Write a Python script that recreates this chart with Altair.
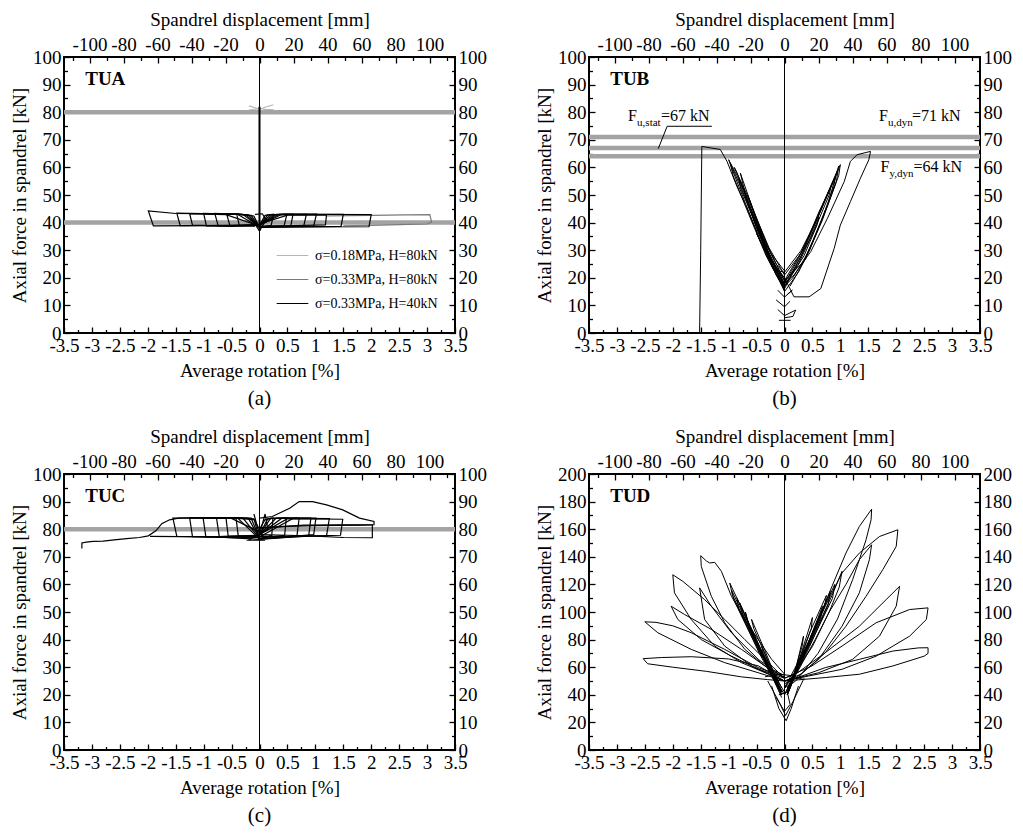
import altair as alt
import pandas as pd

FONT = "Liberation Serif"
W, H = 391, 276
GRAY = "#a3a3a3"

# ---------------- axes values ----------------
ROT_DOMAIN = [-3.5, 3.5]
MM_DOMAIN = [-115, 115]
ROT_MAJOR = [-3.5, -3, -2.5, -2, -1.5, -1, -0.5, 0, 0.5, 1, 1.5, 2, 2.5, 3, 3.5]
ROT_MINOR = [-3.25, -2.75, -2.25, -1.75, -1.25, -0.75, -0.25, 0.25, 0.75, 1.25, 1.75, 2.25, 2.75, 3.25]
MM_MAJOR = [-100, -80, -60, -40, -20, 0, 20, 40, 60, 80, 100]
MM_MINOR = [-110, -90, -70, -50, -30, -10, 10, 30, 50, 70, 90, 110]
F100_MAJOR = [0, 10, 20, 30, 40, 50, 60, 70, 80, 90, 100]
F100_MINOR = [5, 15, 25, 35, 45, 55, 65, 75, 85, 95]
F200_MAJOR = [0, 20, 40, 60, 80, 100, 120, 140, 160, 180, 200]
F200_MINOR = [10, 30, 50, 70, 90, 110, 130, 150, 170, 190]

# ---------------- panel (a) TUA ----------------
A_SERIES = ["σ=0.18MPa, H=80kN", "σ=0.33MPa, H=80kN", "σ=0.33MPa, H=40kN"]
A_COLORS = ["#b5b5b5", "#7a7a7a", "#000000"]
A_REF = [80, 40]
A_LIGHT = {
    "x1": [(-0.19, 82.3), (-0.08, 81.6), (0.0, 81.0), (0.1, 81.8), (0.25, 82.7)],
    "x2": [(-0.19, 80.8), (-0.05, 81.2), (0.0, 81.5), (0.1, 81.0), (0.25, 80.9)],
}
A_MID = {
    "m1": [(1.2, 42.4), (2.0, 42.6), (2.6, 42.8), (3.05, 42.9), (3.08, 40.2), (3.0, 39.5),
           (2.5, 39.3), (2.0, 39.0), (1.5, 38.8)],
}
A_BLACK = {
    "a1": [(0.0, 39.0), (0.10, 42.6), (0.25, 43.0), (0.21, 39.0), (0.0, 38.2), (-0.10, 42.4),
           (-0.41, 43.2), (-0.36, 38.9), (0.0, 39.0)],
    "a2": [(0.0, 39.0), (0.15, 42.8), (0.49, 43.0), (0.44, 38.8), (0.0, 38.5), (-0.15, 42.6),
           (-0.59, 43.2), (-0.53, 38.9), (0.0, 39.2)],
    "a3": [(0.0, 39.2), (0.20, 42.8), (0.60, 43.1), (0.56, 38.7), (0.0, 38.6), (-0.20, 42.8),
           (-0.80, 43.3), (-0.74, 38.8), (0.0, 39.0)],
    "a4": [(0.0, 39.0), (0.25, 42.9), (0.84, 43.0), (0.79, 38.6), (0.0, 38.5), (-0.25, 42.9),
           (-1.00, 43.3), (-0.95, 38.8), (0.0, 39.0)],
    "a5": [(0.0, 39.0), (0.30, 43.0), (1.02, 43.1), (0.97, 38.7), (0.0, 38.4), (-0.30, 43.0),
           (-1.48, 43.4), (-1.42, 38.9), (0.0, 39.1)],
    "a6": [(0.0, 39.1), (0.35, 43.0), (1.50, 43.0), (1.46, 38.6), (0.0, 38.3), (-0.40, 43.1),
           (-1.50, 43.3), (-1.99, 44.2), (-1.90, 38.8), (0.0, 39.0)],
    "a7": [(0.0, 39.0), (0.40, 43.0), (2.00, 42.9), (1.96, 38.5), (0.0, 38.4)],
    "a8": [(-0.15, 41.5), (0.0, 37.0), (0.12, 41.0), (0.05, 43.2), (-0.08, 43.0)],
    "a9": [(0.0, 39.5), (0.5, 42.7), (1.2, 42.8), (1.18, 39.2), (0.6, 38.9), (0.0, 38.7),
           (-0.6, 42.9), (-1.25, 43.2), (-1.2, 39.1), (-0.5, 38.6), (0.0, 39.3)],
}
A_SPIKE = {"s": [(0.0, 37.0), (0.0, 82.0)]}

# ---------------- panel (b) TUB ----------------
B_REF = [71, 67, 64]
B_LOOPS = {
    "init": [(-1.52, 0.4), (-1.50, 30.0), (-1.48, 67.6), (-1.15, 66.5), (-1.08, 64.0),
             (-1.03, 62.2), (-0.85, 53.0), (-0.67, 45.2), (-0.43, 33.1), (-0.19, 23.4),
             (-0.05, 19.0), (0.0, 17.0)],
    "L1": [(0.0, 18.0), (-0.3, 30.0), (-0.6, 45.0), (-0.85, 57.0), (-1.0, 62.8), (-0.95, 60.0),
           (-0.7, 47.0), (-0.4, 32.0), (-0.15, 21.0), (0.0, 16.0)],
    "L2": [(0.0, 17.0), (-0.35, 31.0), (-0.65, 46.0), (-0.79, 57.9), (-0.74, 55.0), (-0.5, 41.0),
           (-0.25, 27.0), (0.0, 19.0)],
    "L3": [(0.0, 16.0), (-0.3, 28.0), (-0.55, 41.0), (-0.7, 50.0), (-0.66, 47.0), (-0.45, 36.0),
           (-0.2, 24.0), (0.0, 18.0)],
    "L4": [(0.0, 15.0), (-0.25, 26.0), (-0.5, 38.0), (-0.6, 44.0), (-0.55, 41.0), (-0.3, 28.0),
           (0.0, 16.0)],
    "L5": [(0.0, 20.0), (-0.2, 24.0), (-0.4, 32.0), (-0.5, 36.0), (-0.45, 34.0), (-0.2, 23.0),
           (0.0, 22.0)],
    "L6": [(0.0, 19.0), (-0.32, 32.0), (-0.62, 48.0), (-0.9, 60.0), (-0.86, 58.5), (-0.58, 44.0),
           (-0.3, 29.0), (0.0, 17.5)],
    "L7": [(0.0, 21.0), (-0.28, 31.0), (-0.55, 44.0), (-0.82, 56.0), (-0.78, 52.0), (-0.52, 40.0),
           (-0.22, 26.0), (0.0, 20.0)],
    "L8": [(0.0, 16.5), (-0.38, 33.0), (-0.7, 49.0), (-0.97, 61.5), (-0.92, 57.0), (-0.64, 43.0),
           (-0.33, 28.0), (0.0, 15.5)],
    "L9": [(0.0, 22.5), (-0.25, 29.0), (-0.48, 40.0), (-0.66, 50.0), (-0.62, 47.5), (-0.4, 35.0),
           (-0.15, 25.0), (0.0, 21.5)],
    "R1": [(0.0, 17.0), (0.3, 28.0), (0.6, 42.0), (0.85, 54.0), (1.0, 61.0), (0.97, 57.0),
           (0.75, 45.0), (0.45, 30.0), (0.15, 20.0), (0.0, 17.0)],
    "R2": [(0.0, 18.0), (0.25, 27.0), (0.5, 38.0), (0.72, 48.0), (0.92, 57.0), (0.88, 53.0),
           (0.65, 40.0), (0.35, 26.0), (0.0, 19.0)],
    "R3": [(0.0, 16.0), (0.2, 24.0), (0.45, 34.0), (0.62, 42.0), (0.58, 39.0), (0.35, 28.0),
           (0.1, 20.0), (0.0, 17.0)],
    "R4": [(0.0, 20.0), (0.17, 13.1), (0.44, 13.1), (0.65, 16.1), (0.89, 30.7), (1.0, 39.1),
           (1.18, 47.6), (1.36, 56.1), (1.51, 62.8), (1.54, 65.8), (1.30, 64.6), (1.18, 62.2),
           (1.07, 54.9), (0.77, 41.6), (0.47, 29.5), (0.17, 21.0), (0.0, 18.0)],
    "R5": [(0.0, 22.0), (0.3, 30.0), (0.55, 40.0), (0.8, 52.0), (0.95, 59.0), (0.9, 56.0),
           (0.6, 42.0), (0.3, 29.0), (0.0, 21.0)],
    "R6": [(0.0, 19.0), (0.35, 31.0), (0.62, 44.0), (0.83, 53.0), (0.8, 50.0), (0.55, 38.0),
           (0.25, 25.0), (0.0, 18.5)],
    "R7": [(0.0, 15.0), (0.25, 22.0), (0.5, 33.0), (0.78, 47.0), (0.97, 60.5), (0.93, 55.0),
           (0.68, 41.0), (0.38, 27.0), (0.1, 17.0)],
    "ch1": [(-0.10, 4.6), (0.11, 4.6)],
    "ch2": [(-0.12, 8.5), (0.0, 6.3), (0.20, 8.3), (0.15, 6.0), (0.0, 5.5)],
    "ch3": [(-0.15, 12.0), (0.0, 9.5), (0.10, 11.5)],
    "ch4": [(-0.12, 15.5), (0.0, 13.0), (0.14, 15.5), (0.05, 14.0)],
}
B_LEADER = {"lead": [(-2.26, 66.8), (-2.10, 74.9), (-1.30, 74.9)]}
B_ANN_X = [-2.8, 1.69, 1.72]
B_ANN_Y = [76.7, 76.7, 58.5]
B_ANN_SUB = ["u,stat", "u,dyn", "y,dyn"]
B_ANN_VAL = ["=67 kN", "=71 kN", "=64 kN"]

# ---------------- panel (c) TUC ----------------
C_REF = [80]
C_LOOPS = {
    "tail": [(-3.18, 73.0), (-3.18, 75.0), (-3.10, 75.3), (-2.98, 75.6), (-2.80, 75.7),
             (-2.60, 76.1), (-2.38, 76.6), (-2.15, 77.0), (-1.99, 77.6), (-1.85, 79.5),
             (-1.75, 82.0), (-1.61, 83.4), (-1.45, 84.0), (-1.0, 84.2), (-0.5, 84.1),
             (-0.1, 83.5), (0.0, 80.0)],
    "c1": [(0.0, 80.0), (0.10, 83.5), (0.24, 84.0), (0.22, 77.8), (0.0, 76.5), (-0.10, 83.8),
           (-0.42, 84.0), (-0.38, 77.5), (0.0, 77.0)],
    "c2": [(0.0, 78.0), (0.15, 83.8), (0.48, 84.0), (0.45, 77.8), (0.0, 76.8), (-0.15, 84.0),
           (-0.60, 84.1), (-0.56, 77.4), (0.0, 77.5)],
    "c3": [(0.0, 78.0), (0.20, 84.0), (0.71, 84.0), (0.67, 77.6), (0.0, 76.6), (-0.20, 84.0),
           (-0.77, 84.1), (-0.72, 77.3), (0.0, 77.8)],
    "c4": [(0.0, 78.0), (0.30, 84.0), (0.92, 84.0), (0.88, 77.5), (0.0, 76.6), (-0.30, 84.1),
           (-1.01, 84.1), (-0.96, 77.2), (0.0, 77.6)],
    "c5": [(0.0, 78.0), (0.40, 84.0), (1.01, 84.0), (0.97, 78.0), (0.0, 76.4), (-0.40, 84.2),
           (-1.55, 84.0), (-1.48, 77.4), (0.0, 77.0)],
    "c6": [(0.0, 78.0), (0.50, 83.8), (1.49, 83.6), (1.45, 77.8), (0.80, 77.5), (0.0, 76.3),
           (-0.80, 77.2), (-1.96, 77.4)],
    "hump": [(0.0, 84.0), (0.23, 84.6), (0.54, 87.6), (0.71, 90.0), (0.95, 90.0), (1.20, 88.8),
             (1.49, 87.0), (1.79, 84.0), (2.05, 82.8), (2.05, 81.6), (1.80, 81.5), (1.0, 81.3),
             (0.5, 81.0), (0.0, 80.5)],
    "box": [(0.0, 80.5), (0.8, 81.5), (1.5, 81.6), (2.02, 81.6), (2.02, 76.9), (1.5, 77.0),
            (1.0, 77.5), (0.5, 77.8), (0.0, 78.0)],
    "mid": [(-0.10, 85.5), (0.0, 78.0), (0.10, 85.5), (0.15, 80.0), (-0.2, 76.0), (0.1, 76.0)],
    "c7": [(0.0, 79.0), (-0.5, 83.9), (-1.25, 84.1), (-1.2, 77.3), (-0.4, 76.9), (0.0, 77.2),
           (0.6, 83.9), (1.25, 83.8), (1.2, 77.6), (0.3, 77.3), (0.0, 77.5)],
}

# ---------------- panel (d) TUD ----------------
D_LOOPS = {
    "L1": [(0.0, 50.0), (-0.47, 61.0), (-1.0, 66.0), (-1.67, 67.6), (-2.2, 67.0), (-2.53, 66.2),
           (-2.45, 62.5), (-2.0, 60.0), (-1.4, 57.0), (-0.77, 53.0), (-0.3, 51.0), (0.0, 50.0)],
    "L2": [(0.0, 50.0), (-0.47, 56.0), (-1.07, 63.3), (-1.67, 72.9), (-2.27, 85.0), (-2.5, 92.9),
           (-2.3, 92.5), (-2.0, 90.0), (-1.67, 85.0), (-1.07, 72.9), (-0.47, 59.7), (0.0, 53.0)],
    "L3": [(0.0, 52.0), (-0.47, 58.7), (-0.95, 68.0), (-1.49, 80.0), (-1.91, 94.6), (-2.03, 104.2),
           (-1.79, 98.2), (-1.31, 87.4), (-0.77, 72.9), (-0.35, 60.9), (0.0, 54.0)],
    "L4": [(0.0, 50.0), (-0.77, 63.3), (-1.25, 75.3), (-1.67, 94.6), (-1.97, 113.9), (-2.0, 127.0),
           (-1.82, 122.2), (-1.43, 109.0), (-1.07, 94.6), (-0.71, 80.0), (-0.35, 65.7), (0.0, 52.0)],
    "L5": [(0.0, 52.0), (-0.35, 60.9), (-0.71, 72.9), (-1.07, 92.2), (-1.31, 111.4), (-1.49, 133.0),
           (-1.5, 140.8), (-1.4, 137.0), (-1.34, 135.5), (-1.25, 136.0), (-1.13, 129.5),
           (-0.95, 111.4), (-0.71, 94.6), (-0.47, 80.0), (-0.23, 65.7), (0.0, 55.0)],
    "L6": [(0.0, 50.0), (-0.59, 60.9), (-1.07, 75.3), (-1.43, 94.6), (-1.52, 117.5), (-1.31, 104.2),
           (-0.95, 85.0), (-0.47, 65.7), (0.0, 52.0)],
    "s1": [(-0.05, 40.0), (-0.5, 80.0), (-0.98, 121.0), (-0.93, 112.0), (-0.45, 72.0), (-0.05, 42.0)],
    "s2": [(-0.05, 42.0), (-0.55, 82.0), (-0.95, 116.0), (-0.9, 108.0), (-0.5, 75.0), (-0.1, 45.0)],
    "s3": [(-0.05, 40.0), (-0.45, 75.0), (-0.8, 106.6), (-0.75, 98.0), (-0.4, 68.0), (-0.05, 43.0)],
    "s4": [(-0.05, 42.0), (-0.35, 72.0), (-0.59, 94.6), (-0.55, 88.0), (-0.3, 65.0), (-0.05, 45.0)],
    "s5": [(-0.05, 40.0), (-0.25, 60.0), (-0.41, 75.3), (-0.38, 70.0), (-0.2, 55.0), (0.0, 42.0)],
    "s6": [(-0.05, 38.0), (-0.5, 78.0), (-0.85, 110.0), (-0.82, 102.0), (-0.45, 70.0), (-0.05, 40.0)],
    "s7": [(-0.05, 40.0), (-0.6, 85.0), (-0.7, 100.0), (-0.65, 92.0), (-0.3, 60.0), (0.0, 40.0)],
    "R1": [(0.0, 50.0), (0.73, 52.5), (1.34, 54.9), (1.94, 60.9), (2.5, 68.0), (2.57, 70.0),
           (2.57, 74.1), (2.4, 74.0), (1.94, 71.7), (1.34, 65.7), (0.73, 59.7), (0.2, 52.0), (0.0, 50.0)],
    "R2": [(0.0, 50.0), (0.43, 53.6), (1.03, 58.5), (1.64, 68.0), (2.24, 82.5), (2.54, 94.6),
           (2.57, 103.0), (2.24, 101.8), (1.64, 92.2), (1.03, 75.3), (0.49, 60.9), (0.0, 52.0)],
    "R3": [(0.0, 50.0), (0.61, 56.0), (1.22, 65.7), (1.7, 82.5), (2.0, 104.2), (2.06, 118.6),
           (1.82, 109.0), (1.34, 89.7), (0.73, 70.5), (0.2, 55.0), (0.0, 52.0)],
    "R4": [(0.0, 45.0), (0.49, 82.5), (0.73, 104.2), (1.03, 128.3), (1.34, 142.7), (1.7, 154.7),
           (2.03, 159.6), (2.0, 147.5), (1.76, 130.7), (1.46, 111.4), (1.1, 89.7), (0.73, 70.5),
           (0.3, 55.0), (0.0, 50.0)],
    "R5": [(0.0, 40.0), (0.37, 70.5), (0.61, 94.6), (0.85, 118.6), (1.1, 142.7), (1.34, 162.0),
           (1.56, 174.5), (1.55, 166.8), (1.46, 152.3), (1.22, 123.5), (0.95, 95.0), (0.6, 70.0),
           (0.2, 50.0), (0.0, 45.0)],
    "R6": [(0.0, 45.0), (0.5, 75.0), (0.8, 100.0), (1.1, 120.0), (1.34, 137.9), (1.56, 148.7),
           (1.52, 137.9), (1.34, 113.9), (1.03, 89.7), (0.61, 65.7), (0.2, 52.0), (0.0, 48.0)],
    "R7": [(0.0, 40.0), (0.3, 65.0), (0.6, 90.0), (0.85, 112.0), (1.03, 129.5), (0.98, 118.0),
           (0.8, 100.0), (0.55, 80.0), (0.25, 58.0), (0.0, 45.0)],
    "r1": [(0.05, 40.0), (0.5, 85.0), (0.82, 115.0), (0.78, 105.0), (0.45, 75.0), (0.05, 42.0)],
    "r2": [(0.05, 40.0), (0.4, 75.0), (0.68, 104.0), (0.65, 96.0), (0.35, 68.0), (0.05, 43.0)],
    "r3": [(0.05, 40.0), (0.3, 70.0), (0.5, 96.0), (0.48, 88.0), (0.25, 62.0), (0.05, 42.0)],
    "r4": [(0.05, 40.0), (0.22, 62.0), (0.34, 82.5), (0.32, 76.0), (0.18, 56.0), (0.05, 42.0)],
    "r5": [(0.05, 40.0), (0.55, 90.0), (0.9, 120.0), (0.86, 110.0), (0.5, 80.0), (0.05, 45.0)],
    "r6": [(0.05, 42.0), (0.45, 85.0), (0.75, 112.0), (0.72, 104.0), (0.4, 76.0), (0.05, 44.0)],
    "c1": [(-0.23, 46.4), (-0.1, 30.0), (0.03, 21.2), (0.12, 30.0), (0.25, 46.4)],
    "c2": [(-0.3, 50.0), (-0.1, 35.0), (0.02, 25.0), (0.15, 35.0), (0.35, 52.0)],
    "c3": [(-0.35, 53.0), (-0.1, 55.0), (0.1, 54.0), (0.35, 51.0)],
    "c4": [(-0.15, 38.0), (0.0, 28.0), (0.1, 33.0), (0.05, 42.0), (-0.1, 40.0)],
}

LABEL_POS = {"TUA": (-3.12, 92.2), "TUB": (-3.12, 92.2), "TUC": (-3.12, 92.2), "TUD": (-3.12, 184.4)}


def sc(dom):
    return alt.Scale(domain=dom, nice=False, zero=False)


def loops_df(loops, series=None):
    rows = []
    for name, pts in loops.items():
        for i, (r, f) in enumerate(pts):
            row = {"loop": name, "i": i, "rot": r, "F": f}
            if series is not None:
                row["series"] = series
            rows.append(row)
    return pd.DataFrame(rows)


def label_axis(orient, values, title=None, tpad=6):
    kw = dict(orient=orient, values=values, labelExpr="'' + datum.value", ticks=False,
              domain=False, grid=False, labelFont=FONT, labelFontSize=19, labelColor="black",
              labelPadding=3, labelFlush=False, labelOverlap=False)
    if title:
        kw.update(title=title, titleFont=FONT, titleFontSize=19, titleFontWeight="normal",
                  titleColor="black", titlePadding=tpad)
    else:
        kw.update(title=None)
    return alt.Axis(**kw)


def tick_axis(orient, values, size):
    return alt.Axis(orient=orient, values=values, labels=False, domain=False, grid=False,
                    ticks=True, tickSize=size, tickColor="black", tickWidth=1.3,
                    offset=-size, title=None)


DUMMY = pd.DataFrame({"rot": [0.0], "F": [0.0], "mm": [0.0]})


def axis_layer(xfield, xdom, xaxis, ydom, yaxis):
    return alt.Chart(DUMMY).mark_point(opacity=0, size=1).encode(
        x=alt.X(f"{xfield}:Q", scale=sc(xdom), axis=xaxis),
        y=alt.Y("F:Q", scale=sc(ydom), axis=yaxis),
    )


def line_layer(df, ydom, color="black", width=1.0, colorenc=None):
    enc = dict(
        x=alt.X("rot:Q", scale=sc(ROT_DOMAIN), axis=None),
        y=alt.Y("F:Q", scale=sc(ydom), axis=None),
        detail="loop:N",
        order="i:Q",
    )
    if colorenc is not None:
        enc["color"] = colorenc
        mark = alt.Chart(df).mark_line(strokeWidth=width)
    else:
        mark = alt.Chart(df).mark_line(color=color, strokeWidth=width)
    return mark.encode(**enc)


def panel(tag, caption, ymax, ymaj, ymin, content, refs):
    ydom = [0, ymax]
    layers = []
    if refs:
        layers.append(alt.Chart(pd.DataFrame({"F": refs})).mark_rule(color=GRAY, strokeWidth=4.5)
                      .encode(y=alt.Y("F:Q", scale=sc(ydom), axis=None)))
    layers.append(alt.Chart(pd.DataFrame({"rot": [0.0]})).mark_rule(color="black", strokeWidth=1)
                  .encode(x=alt.X("rot:Q", scale=sc(ROT_DOMAIN), axis=None)))
    layers += content
    lx, ly = LABEL_POS[tag]
    layers.append(alt.Chart(pd.DataFrame({"rot": [lx], "F": [ly], "t": [tag]}))
                  .mark_text(font=FONT, fontSize=19, fontWeight="bold", align="left",
                             baseline="middle", color="black")
                  .encode(x=alt.X("rot:Q", scale=sc(ROT_DOMAIN), axis=None),
                          y=alt.Y("F:Q", scale=sc(ydom), axis=None), text="t:N"))
    layers += [
        axis_layer("rot", ROT_DOMAIN, label_axis("bottom", ROT_MAJOR, "Average rotation [%]", 6),
                   ydom, label_axis("left", ymaj, "Axial force in spandrel [kN]", 3)),
        axis_layer("rot", ROT_DOMAIN, tick_axis("bottom", ROT_MAJOR, 6), ydom, tick_axis("left", ymaj, 6)),
        axis_layer("rot", ROT_DOMAIN, tick_axis("bottom", ROT_MINOR, 3.5), ydom, tick_axis("left", ymin, 3.5)),
        axis_layer("mm", MM_DOMAIN, label_axis("top", MM_MAJOR, "Spandrel displacement [mm]", 6),
                   ydom, label_axis("right", ymaj)),
        axis_layer("mm", MM_DOMAIN, tick_axis("top", MM_MAJOR, 6), ydom, tick_axis("right", ymaj, 6)),
        axis_layer("mm", MM_DOMAIN, tick_axis("top", MM_MINOR, 3.5), ydom, tick_axis("right", ymin, 3.5)),
    ]
    return alt.layer(*layers).resolve_scale(x="independent", y="independent").resolve_axis(
        x="independent", y="independent").properties(
        width=W, height=H,
        title=alt.TitleParams(caption, orient="bottom", font=FONT, fontSize=21, fontWeight="normal",
                              color="black", offset=8, frame="group"))


# ----- panel (a) content -----
a_df = pd.concat([loops_df(A_LIGHT, A_SERIES[0]), loops_df(A_MID, A_SERIES[1]),
                  loops_df(A_BLACK, A_SERIES[2])], ignore_index=True)
a_color = alt.Color("series:N", scale=alt.Scale(domain=A_SERIES, range=A_COLORS),
                    legend=alt.Legend(orient="none", legendX=212, legendY=182, title=None,
                                      symbolType="stroke", symbolSize=1000, symbolStrokeWidth=1.2,
                                      labelFont=FONT, labelFontSize=14, labelColor="black",
                                      rowPadding=-11, labelOffset=6, padding=0))
A_content = [
    line_layer(a_df, [0, 100], colorenc=a_color, width=1.2),
    line_layer(loops_df(A_SPIKE), [0, 100], width=2),
]

# ----- panel (b) content -----
b_ann = pd.DataFrame({"rot": B_ANN_X, "F": B_ANN_Y, "sub": B_ANN_SUB, "val": B_ANN_VAL,
                      "main": ["F"] * len(B_ANN_X)})
bx = alt.X("rot:Q", scale=sc(ROT_DOMAIN), axis=None)
by = alt.Y("F:Q", scale=sc([0, 100]), axis=None)
B_content = [
    line_layer(loops_df(B_LOOPS), [0, 100]),
    line_layer(loops_df(B_LEADER), [0, 100]),
    alt.Chart(b_ann).mark_text(font=FONT, fontSize=16, align="left", baseline="alphabetic",
                               color="black").encode(x=bx, y=by, text="main:N"),
    alt.Chart(b_ann).mark_text(font=FONT, fontSize=11, align="left", baseline="alphabetic",
                               color="black", dx=9, dy=5).encode(x=bx, y=by, text="sub:N"),
    alt.Chart(b_ann).mark_text(font=FONT, fontSize=16, align="left", baseline="alphabetic",
                               color="black", dx=33).encode(x=bx, y=by, text="val:N"),
]

C_content = [line_layer(loops_df(C_LOOPS), [0, 100], width=1.2)]
D_content = [line_layer(loops_df(D_LOOPS), [0, 200])]

pa = panel("TUA", "(a)", 100, F100_MAJOR, F100_MINOR, A_content, A_REF)
pb = panel("TUB", "(b)", 100, F100_MAJOR, F100_MINOR, B_content, B_REF)
pc = panel("TUC", "(c)", 100, F100_MAJOR, F100_MINOR, C_content, C_REF)
pd_ = panel("TUD", "(d)", 200, F200_MAJOR, F200_MINOR, D_content, [])

chart = alt.concat(pa, pb, pc, pd_, columns=2, spacing={"row": 16, "column": 46}).resolve_scale(
    color="independent").properties(
    padding={"left": 1, "top": 1, "right": 0, "bottom": 0}, background="white"
).configure_view(stroke="black", strokeWidth=2).configure_legend(
    labelFont=FONT)

chart.save("out.html", embed_options={"renderer": "svg", "actions": False})
